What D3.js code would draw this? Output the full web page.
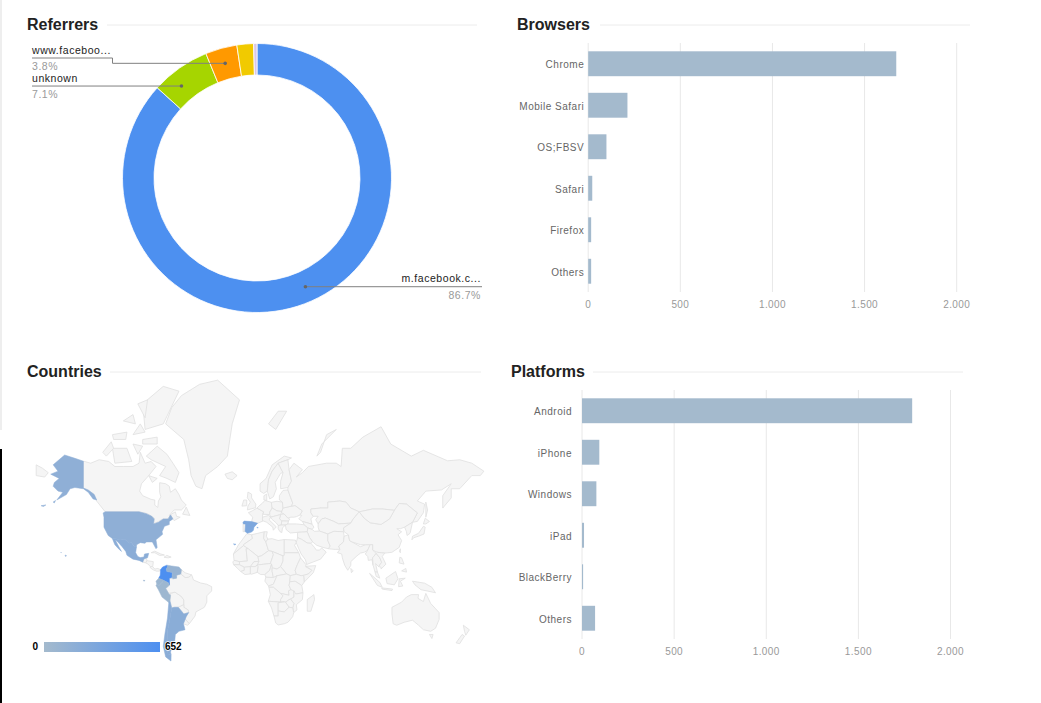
<!DOCTYPE html>
<html>
<head>
<meta charset="utf-8">
<script src="https://cdn.jsdelivr.net/npm/d3@7"></script>
<style>
  html, body { margin: 0; padding: 0; background: #fff; overflow: hidden; }
  svg { display: block; }
  text { font-family: "Liberation Sans", Arial, sans-serif; }
</style>
</head>
<body>
<svg id="chart" width="1041" height="703"></svg>
<script>
// referrers donut
const refNames = ["m.facebook.c...", "unknown", "www.faceboo...", "other", "rest"];
const refShares = [86.7, 7.1, 3.8, 2.0, 0.4];
const refColors = ["#4d90f0", "#a6d500", "#ff9900", "#f1ca00", "#d9c7e8"];
const refLeaderDeg = [156, 320.6, 344.5];

// bars
const browserNames = ["Chrome", "Mobile Safari", "OS;FBSV", "Safari", "Firefox", "Others"];
const browserHits = [1672, 213, 99, 22, 16, 16];
const platformNames = ["Android", "iPhone", "Windows", "iPad", "BlackBerry", "Others"];
const platformHits = [1792, 94, 78, 11, 6, 71];
const hitTicks = [0, 500, 1000, 1500, 2000];

// countries with hits, everything else on the map is empty
const countryHits = { USA: 160, Mexico: 190, Spain: 290, Colombia: 652, Venezuela: 100, Ecuador: 60, Peru: 50, Chile: 190, Argentina: 195 };
const legendRange = [0, 652];

// rough outlines, lon/lat
const hitShapes = {
  USA: [
    [[-124.7,48.4],[-123,49],[-95,49],[-89,48],[-84.5,46.5],[-82.5,45],[-83,42],[-79,43],[-75,45],[-71,45],[-69,47.3],[-67,45],[-70,43.5],[-70,41.6],[-74,40.5],[-76,37],[-75.5,35.3],[-81,31.5],[-80,26],[-81,25],[-82.8,28],[-84,30],[-89,30],[-90,29],[-94,29.5],[-97,28],[-97.2,26],[-99.5,27.5],[-101.5,29.8],[-103,29],[-106.5,31.8],[-111,31.3],[-114.8,32.5],[-117.1,32.5],[-120.5,34.5],[-124,40],[-124,46]],
    [[-141,69.6],[-148,70.4],[-156.5,71.3],[-166,68.5],[-162,66.5],[-168,65.5],[-161,64],[-165,62.5],[-166,61],[-162,59],[-158,58.5],[-163,55],[-155,57.5],[-152,60],[-148,60.5],[-141,60],[-137,58.5],[-133,55.5],[-130,55],[-132,57.5],[-137,59.5],[-141,60.3]],
    [[-156,20.2],[-155,19.8],[-155.6,19],[-156,19.6]],
    [[-159.7,22.2],[-159.2,22.1],[-159.4,21.8]],
    [[-166,54],[-164,54.8],[-165,53.6]],
    [[-176,52.2],[-172,52.6],[-174,51.8]]
  ],
  Mexico: [[[-117.1,32.5],[-114.8,32.5],[-111,31.3],[-106.5,31.8],[-103,29],[-101.5,29.8],[-99.5,27.5],[-97.2,26],[-97.8,22],[-96,19],[-94,18.2],[-91,18.7],[-90.5,21],[-87,21.5],[-88,18],[-89,17.9],[-91,17.2],[-92,14.6],[-95,16],[-100,17],[-105,20],[-106,23],[-109,26.5],[-112.5,30],[-114.7,31.5],[-112,27],[-109.5,23],[-112,25],[-115,28]]],
  Spain: [
    [[-9.2,43],[-8,43.7],[-2,43.4],[3,42.4],[0,40],[-0.5,38],[-2,36.8],[-5.5,36],[-7.4,37.2],[-7,42],[-8.8,42]],
    [[-17,28.6],[-15,28.4],[-15.8,27.7]],
    [[2.4,39.9],[3.4,39.8],[3,39.3]]
  ],
  Colombia: [[[-77.3,8.5],[-75.5,10.7],[-72,12.2],[-71.3,11],[-72.5,9],[-72,7],[-67.5,6.2],[-67.8,2],[-70,1.5],[-69.8,-4.2],[-70.8,-2.3],[-75.2,-0.1],[-78.8,1.4],[-77.5,4],[-77.3,7]]],
  Venezuela: [[[-72,12.2],[-68,11.5],[-62,10.7],[-60,8.5],[-60.5,5],[-64,4],[-64,1.5],[-67,1],[-67.8,2],[-67.5,6.2],[-72,7],[-72.5,9],[-71.3,11]]],
  Ecuador: [
    [[-78.8,1.4],[-75.2,-0.1],[-75.5,-1.5],[-78.5,-4.5],[-80.3,-3.4],[-81,-1]],
    [[-91.5,-0.2],[-90,-0.4],[-91,-1]]
  ],
  Peru: [[[-81,-4.5],[-80.3,-3.4],[-78.5,-4.5],[-75.5,-1.5],[-75.2,-0.1],[-70.8,-2.3],[-69.8,-4.2],[-73,-7],[-70.5,-11],[-69,-12.5],[-69.5,-17],[-70.4,-18.3],[-76,-14],[-79,-8]]],
  Chile: [[[-70.4,-18.3],[-69.5,-17],[-68,-22.5],[-70,-33],[-71.5,-39],[-72,-47],[-71,-52],[-68.5,-52.3],[-68.6,-55.5],[-73,-53.5],[-75,-48],[-73.5,-40],[-71.5,-30]]],
  Argentina: [[[-66,-22],[-62.6,-22],[-58,-27],[-54,-26],[-56,-29],[-58.3,-34],[-57,-38],[-62,-39],[-65,-41],[-65.5,-45],[-69,-51],[-68.5,-52.3],[-71,-52],[-72,-47],[-71.5,-39],[-70,-33],[-68,-22.5]]]
};

const emptyShapes = [
  // north america
  [[-141,69.6],[-135,69],[-128,70],[-120,69.5],[-115,68],[-108,68],[-100,68],[-95,69],[-94,72],[-90,69],[-85,69.5],[-81,68],[-87,65],[-93,62],[-94.5,59],[-92,57],[-85,55.3],[-82,55],[-82,52.5],[-79.5,51.3],[-79,54.5],[-77,56.5],[-78,58.5],[-78,62.4],[-73,62],[-70,61],[-69,58.5],[-65,60],[-62,57.5],[-60,55],[-56,52.5],[-60,50],[-66,50],[-70,47],[-65,49],[-64,46.5],[-61,46],[-66,44],[-67,45],[-69,47.3],[-71,45],[-75,45],[-79,43.5],[-83,42],[-82.5,45.5],[-88,48],[-95,49],[-123,49],[-130,54.5],[-133,58],[-137,59],[-141,60.3]],
  [[-80,73.5],[-72,71.5],[-67,69],[-62,66],[-65,62.5],[-72,64],[-78,65],[-73,68],[-85,70],[-89,71]],
  [[-117,73],[-105,73],[-101,69.5],[-115,69]],
  [[-125,72],[-118,74.5],[-116,73],[-122,71]],
  [[-90,77],[-75,78],[-62,82.5],[-75,83],[-92,81]],
  [[-92,75],[-80,75.5],[-80,74],[-92,74]],
  [[-117,76],[-105,76.5],[-106,75],[-116,75]],
  [[-100,76],[-94,78],[-90,76.5]],
  [[-100,74],[-92,73.5],[-96,71.5]],
  [[-108,78.5],[-100,79.5],[-98,78]],
  [[-96,81],[-88,81.5],[-90,79]],
  [[-59,47.7],[-56,51.5],[-53,47]],
  [[-87,65],[-80,64],[-84,62.5]],
  [[-73,78],[-68,80.5],[-60,82],[-45,83.2],[-30,83.6],[-12,81.5],[-18,78],[-20,75],[-22,71],[-30,68],[-40,65],[-43,60],[-48,61],[-52,65],[-54,70],[-58,75]],
  [[-24,65.5],[-18,66.3],[-14,65],[-18,63.5],[-22,64]],
  // central america and caribbean
  [[-92,14.6],[-91,17.2],[-89,17.9],[-88.5,15.8],[-89.5,14]],
  [[-88.5,15.8],[-83.2,15],[-83.7,11],[-85.7,11],[-87.5,13],[-89.5,14]],
  [[-85.7,11],[-83.7,11],[-82,9],[-79.5,9.5],[-77.3,8.5],[-78,7.3],[-80.5,7.3],[-83,8.2],[-85.7,10]],
  [[-85,22],[-82,23.2],[-77,21],[-74,20.2],[-78,19.9],[-82,22]],
  [[-74.4,18.5],[-72,19.9],[-68.5,18.6],[-71,18]],
  // south america
  [[-69,-11],[-65.3,-10],[-60,-13.5],[-58,-16.3],[-58,-20],[-62.6,-22],[-66,-22],[-68,-22.5],[-69.5,-17],[-69,-12.5]],
  [[-60.5,5],[-60,8.5],[-57,6],[-51.5,4.2],[-54,2.2],[-57,2]],
  [[-60.5,5],[-57,2],[-54,2.2],[-51.5,4.2],[-50,0],[-44,-2.5],[-39,-3.5],[-35,-5.5],[-35,-9],[-39,-13],[-39,-18],[-41,-22],[-48,-25.5],[-48.7,-28.5],[-53.5,-34],[-57.5,-30],[-54,-26],[-54.5,-24],[-58,-22],[-58,-16.3],[-60,-13.5],[-65.3,-10],[-70.5,-11],[-73,-7],[-69.8,-4.2],[-70,1.5],[-67,1],[-64,1.5],[-64,4]],
  [[-62.6,-22],[-58,-20],[-58,-22],[-54.5,-24],[-54,-26],[-58,-27]],
  [[-58.3,-34],[-58,-30.5],[-57.5,-30],[-53.5,-34],[-55,-35]],
  // europe
  [[-9,42],[-7,42],[-7.4,37.2],[-9,37]],
  [[-2,43.4],[3,42.4],[7.5,43.8],[7,47.5],[8,49],[2.5,51],[-1.5,49.5],[-4.7,48.5],[-1,46]],
  [[-5.5,50],[1.3,51.2],[1.5,53],[-2,56],[-2,57.7],[-5,58.6],[-5.5,56],[-3,54],[-5,52]],
  [[-10,52],[-6,52.2],[-6,55],[-8.5,55]],
  [[2.5,51],[8,49],[7.5,47.6],[13,47.5],[13,48.8],[15,51],[14.3,53.9],[9,54.8],[7,53.5],[4,52]],
  [[8.2,55],[10.5,54.8],[10.5,57.7],[8.2,57]],
  [[7,44],[7,46],[12,47],[13.7,46],[12.5,44.5],[18.4,40.2],[16,38],[15.5,40],[10.5,43]],
  [[14.3,53.9],[15,51],[19,49.5],[23,49.2],[24,51],[23.5,54],[19,54.4]],
  [[13,47.5],[13,48.8],[15,51],[19,49.5],[23,49.2],[22,47.5],[16.5,46.5],[13.7,46]],
  [[22,47.5],[24.8,47.9],[28,45.5],[29.5,45],[28.5,43.7],[23,43.8],[21,45]],
  [[13.7,46],[16.5,46.5],[22,47.5],[21,45],[23,43.8],[22.5,41.3],[20,41],[18.4,42.6],[14.5,45]],
  [[23,43.8],[28.5,43.7],[28,42],[26,41.3],[22.5,41.3]],
  [[20,41],[22.5,41.3],[26,41.3],[23.5,39.5],[23,36.5],[21.5,37],[20,39]],
  [[24,51],[23,49.2],[22.8,48.3],[24.8,47.9],[28,45.5],[30.5,46],[33,46],[35,46.3],[38,47.2],[40,49.5],[34,52.3],[31,52]],
  [[23.5,54],[24,51],[31,52],[32,53.5],[28,59.5],[24,59.3],[21,57],[21,55]],
  [[5,59],[8,58],[11,59],[12,63.5],[15,66.5],[20,69],[28,70],[31,70.5],[25,71],[15,68.5],[10,64],[5,62]],
  [[11,59],[13,55.5],[16,56.5],[18.5,60],[17.5,62.5],[22,65.8],[24,66],[20,69],[15,66.5],[12,63.5]],
  [[24,66],[22,63],[22,60],[28,60.5],[31,63],[29,67],[28,70],[20,69]],
  [[12,78],[20,80],[27,80],[18,77]],
  [[52,71],[56,74],[68,77],[60,76],[55,72]],
  // russia and asia
  [[28,60.5],[28,59.5],[32,53.5],[31,52],[34,52.3],[40,49.5],[38,47.2],[39.5,47],[37,45],[40,43.5],[48,41.8],[47,45],[49,46.5],[47,48.5],[47,50.5],[55,51],[61,51],[61,54],[71,54.5],[76,54],[80,51],[87,49],[98,50.5],[106,50.5],[116,49.8],[120,53.3],[126,53],[135,48.4],[131,43],[135,43.5],[140,48.5],[141,53],[135,54.5],[142,59],[155,59.5],[163,62],[156,57],[156,51],[163,56],[163,60],[170,60],[180,65],[187,65],[190,66.5],[180,69],[170,70],[160,69.7],[140,72.5],[130,71],[113,74],[105,77.5],[90,75.5],[80,73],[73,73],[72,68],[68,69],[60,69],[45,68],[40,66],[35,64.5],[40,67],[33,69],[29,67],[31,63]],
  [[-180,68.5],[-175,67.5],[-170,66],[-173,64.5],[-180,65]],
  [[26,41.3],[28,42],[35,42],[41.5,41.5],[44.5,39.5],[44,37],[36,36.6],[30,36.2],[26.5,38.5]],
  [[40,43.5],[48,41.8],[49.5,40],[48,38.5],[44.5,39.5],[41.5,41.5]],
  [[47,50.5],[55,51],[61,51],[61,54],[71,54.5],[76,54],[80,51],[87,49],[82,45],[80,42.5],[70,42],[66,43.5],[59,45.5],[56,45],[53,42],[51,44.5],[53,46.5],[49,46.5],[47,48.5]],
  [[53,42],[56,45],[59,45.5],[66,43.5],[70,42],[80,42.5],[74,39.5],[74,37],[66,37.3],[61,35.5],[54,37.5],[53,40]],
  [[44.5,39.5],[48,38.5],[50,37.3],[54,37.5],[61,35.5],[61,31],[63,27],[61.5,25],[57,26],[52,27.5],[48.5,30],[46,33],[44,37]],
  [[36,36.6],[44,37],[46,33],[48.5,30],[47,29],[44,29.2],[39,32],[36,33]],
  [[34.9,29.5],[36,33],[39,32],[44,29.2],[47,29],[48,28],[50,26],[51.5,24],[54,24],[56,25.5],[59.7,22.5],[55,17],[43.5,12.7],[42.5,16.5],[39,21],[37,25]],
  [[61,35.5],[66,37.3],[74,37],[74.5,34],[74,30],[70,27],[71,24.5],[67,24.5],[61.5,25],[63,27],[61,31]],
  [[74.5,34],[78,35],[79,31],[81,30],[88,26.5],[92,28],[96,28],[94,24],[91.5,22.5],[88,21.7],[85,19.5],[80,15],[80,12],[77.5,8],[75,12],[73,18],[72.5,21],[69,22],[71,24.5],[70,27],[74,30]],
  [[74,39.5],[80,42.5],[82,45],[87,49],[91,45.5],[96,42.7],[105,41.7],[112,45],[116,49.8],[120,53.3],[126,53],[135,48.4],[131,43],[124.5,40],[121,39],[118,39],[122,37],[119,35],[122,31],[120,26],[114,22.3],[108,21.7],[102,22.3],[98,24],[98,28],[92,28],[88,28],[81,30],[79,31],[78,35],[74.5,37]],
  [[87,49],[98,50.5],[106,50.5],[116,49.8],[112,45],[105,41.7],[96,42.7],[91,45.5]],
  [[124.5,40],[131,43],[129,36],[126.5,34.5],[126,37]],
  [[130.5,31.5],[131,34],[136,36],[140,40.5],[141.5,40],[140.5,35.5],[136,34],[132,33]],
  [[140,42],[141.5,45.4],[145,43.5],[142,42]],
  [[142,46],[142,54],[143.5,50]],
  [[92,21],[94,24],[96,28],[98,28],[98,24],[101,21.5],[98,18],[98.5,12],[97.5,16.5],[94.5,16],[94,19]],
  [[101,21.5],[98,18],[98.5,12],[100,6.5],[102,6.5],[100.5,13.5],[103,11],[105.5,14.5],[104,18]],
  [[102,22.3],[108,21.7],[106,19],[109,13],[105,9],[105,10.5],[103,11],[105.5,14.5],[104,18],[101,21.5]],
  [[100,6.5],[102,6.5],[104,1.5],[101,3]],
  [[95.5,5.5],[104,-2],[106,-6],[102,-4.5]],
  [[105.5,-6.5],[114.5,-7.5],[114,-8.7],[106,-7.5]],
  [[109,1.5],[117,7],[119,1],[116,-4],[110,-3]],
  [[120,1],[125,1.5],[121,-1],[123,-5],[119.5,-5.5]],
  [[131,-1],[141,-2.6],[147,-6],[150,-10.5],[143,-9],[138,-8],[133,-4]],
  [[120.5,18.5],[122,18],[124,13],[120,14]],
  [[122,7.5],[125.5,9.5],[126,6.5]],
  [[121,25],[120.2,23],[121,22]],
  [[80,9.5],[82,7.5],[80.5,6]],
  // oceania
  [[114,-22],[122,-18],[126,-14],[130,-12],[136,-12],[135.5,-15],[140,-17.5],[142,-11],[146,-19],[153,-26],[153,-31],[150,-37],[146,-39],[140,-38],[136,-35],[131,-31.5],[124,-33],[118,-35],[115,-34],[114,-27]],
  [[145,-41],[148,-41],[147,-43.5]],
  [[173,-35],[178,-38],[175,-41.5],[174,-39]],
  [[172,-41],[174,-42],[170,-46.5],[167,-46]],
  // africa
  [[49.5,-12],[50,-16],[47,-25],[44,-25],[44,-16]],
  [[-5.9,35.8],[-2,35],[-1.2,32.5],[-8.7,28],[-8.7,27.3],[-17,21],[-13,27.7],[-9.7,31.5]],
  [[-2,35],[8.5,37],[8,32.5],[9.8,30],[12,23.5],[6,19.5],[3.3,19],[-4.8,25],[-8.7,27.3],[-8.7,28],[-1.2,32.5]],
  [[8.5,37],[11,37],[10.2,34],[11.5,32],[9.8,30],[8,32.5]],
  [[11.5,32],[15,32.3],[20,31],[25,31.7],[25,20],[24,19.5],[15,23],[12,23.5],[9.8,30]],
  [[25,31.7],[34.2,31.3],[34.9,29.5],[33.5,27.5],[37,22],[25,22]],
  [[-17,21],[-8.7,27.3],[-4.8,25],[-6.5,25],[-5.5,15.5],[-12,15],[-16.5,16]],
  [[-4.8,25],[3.3,19],[4,15.2],[0,15],[-3,11],[-8,10.5],[-12,12.5],[-12,15],[-5.5,15.5],[-6.5,25]],
  [[3.3,19],[6,19.5],[12,23.5],[15,23],[16,20.5],[13.5,13.5],[4,12.5],[2.5,12],[4,15.2]],
  [[15,23],[24,19.5],[24,15.5],[22,11],[19,9],[15,10],[14.5,13],[13.5,13.5],[16,20.5]],
  [[25,20],[25,22],[37,22],[38.5,18],[36,13],[34,8],[35,4.7],[30,3.6],[27,5],[22,11],[24,15.5],[24,19.5]],
  [[38.5,18],[43,12.5],[42.5,11],[48,8],[45,5],[41.8,4],[39,3.5],[35,4.7],[34,8],[36,13]],
  [[43,11.3],[51,11.8],[49,6],[41.5,-1.7],[41,3.9],[45,5],[48,8]],
  [[-16.5,16],[-12,15],[-12,12.5],[-16.8,12.5],[-17.5,14.7]],
  [[-16.8,12.5],[-12,12.5],[-8,10.5],[-8,8],[-11,7],[-13.5,9.5]],
  [[-11,7],[-8,8],[-8,10.5],[-3,11],[-3,5],[-7.5,4.5]],
  [[-3,11],[0,15],[4,15.2],[2.5,12],[1,11]],
  [[-3,11],[1,11],[2.5,12],[3.5,11],[2.7,6.3],[-2,4.8],[-3,5]],
  [[2.7,6.3],[3.5,11],[2.5,12],[4,12.5],[13.5,13.5],[14.5,13],[13,8],[9,4.5],[5.5,4.5]],
  [[9,4.5],[13,8],[14.5,13],[15,10],[15,7],[16,2],[9.7,2.3]],
  [[15,7],[15,10],[19,9],[22,11],[27,5],[19,3.5],[16,2]],
  [[9.7,2.3],[16,2],[19,3.5],[16,-3.5],[12,-5],[9,-1]],
  [[19,3.5],[27,5],[30,3.6],[29.5,-1.5],[29,-4.5],[30.5,-8],[28.5,-9],[29,-12.5],[22,-11],[16,-6],[12.3,-6],[12,-5],[16,-3.5]],
  [[30,3.6],[35,4.7],[39,3.5],[41,3.9],[41.5,-1.7],[39.5,-4.6],[34,-1],[29.5,-1.5]],
  [[29.5,-1.5],[34,-1],[39.5,-4.6],[40.5,-10.5],[34.5,-11.5],[30.5,-8],[29,-4.5]],
  [[12.3,-6],[16,-6],[22,-11],[24,-13],[22,-16],[22,-18],[11.8,-17.3],[13.5,-12]],
  [[22,-11],[29,-12.5],[28.5,-9],[30.5,-8],[33,-9],[33,-14],[30,-15.5],[26,-18],[22,-18],[22,-16],[24,-13]],
  [[34.5,-11.5],[40.5,-10.5],[40,-16],[35,-20],[35.5,-24],[32.8,-26],[32,-22.4],[33,-19],[30.3,-15.6],[33,-14],[33,-9]],
  [[26,-18],[30,-15.5],[33,-19],[32,-22.4],[29,-22]],
  [[11.8,-17.3],[22,-18],[25,-17.8],[20,-18.5],[20,-28.5],[16.5,-28.5],[14.5,-22.5]],
  [[20,-18.5],[25,-17.8],[26,-18],[29,-22],[25,-25.5],[20,-24.8]],
  [[16.5,-28.5],[20,-28.5],[20,-24.8],[25,-25.5],[29,-22],[32,-22.4],[32.8,-26],[32,-29],[28,-33],[25,-34],[20,-34.8],[18,-33.5]]
];

const svg = d3.select("#chart");

// the screenshot has a bit of another window on its left edge
svg.append("rect").attr("x", 0).attr("y", 0).attr("width", 2).attr("height", 430).attr("fill", "#eeeeee");
svg.append("rect").attr("x", 0).attr("y", 449).attr("width", 2).attr("height", 254).attr("fill", "#000");

function drawTitle(label, x, y, lineFrom, lineTo) {
  svg.append("text").attr("x", x).attr("y", y)
    .attr("font-size", 16).attr("font-weight", "bold").attr("fill", "#222")
    .text(label);
  svg.append("line")
    .attr("x1", lineFrom).attr("x2", lineTo)
    .attr("y1", y - 5).attr("y2", y - 5)
    .attr("stroke", "#ececec");
}

drawTitle("Referrers", 27, 30, 107, 477);
drawTitle("Browsers", 517, 30, 600, 970);
drawTitle("Countries", 27, 377, 110, 481);
drawTitle("Platforms", 511, 377, 593, 963);

// donut
const pie = d3.pie().sort(null).value(d => d);
const arc = d3.arc().innerRadius(103).outerRadius(134.5);
const donut = svg.append("g").attr("transform", "translate(257,178)");

donut.selectAll("path")
  .data(pie(refShares))
  .join("path")
  .attr("d", arc)
  .attr("fill", (d, i) => refColors[i])
  .attr("stroke", "#fff")
  .attr("stroke-width", 0.8);

const leaders = [
  { i: 0, bend: null, endX: 482, textX: 481, anchor: "end" },
  { i: 1, bend: null, endX: 32, textX: 32, anchor: "start" },
  { i: 2, bend: [112.5, 58], endX: 32, textX: 32, anchor: "start" }
];

leaders.forEach(l => {
  const a = refLeaderDeg[l.i] * Math.PI / 180;
  const px = 257 + 119 * Math.sin(a);
  const py = 178 - 119 * Math.cos(a);
  const pts = l.bend
    ? [[px, py], [l.bend[0], py], l.bend, [l.endX, l.bend[1]]]
    : [[px, py], [l.endX, py]];
  const lineY = pts[pts.length - 1][1];

  svg.append("path")
    .attr("d", d3.line()(pts))
    .attr("fill", "none")
    .attr("stroke", "#808080")
    .attr("stroke-width", 1);
  svg.append("circle").attr("cx", px).attr("cy", py).attr("r", 1.8).attr("fill", "#666");
  svg.append("text").attr("x", l.textX).attr("y", lineY - 4.5)
    .attr("text-anchor", l.anchor).attr("font-size", 10.5).attr("letter-spacing", 0.55)
    .attr("fill", "#222").text(refNames[l.i]);
  svg.append("text").attr("x", l.textX).attr("y", lineY + 12)
    .attr("text-anchor", l.anchor).attr("font-size", 10.5).attr("letter-spacing", 0.55)
    .attr("fill", "#999").text(refShares[l.i] + "%");
});

// bar charts
const dotThousands = d3.formatLocale({ decimal: ",", thousands: ".", grouping: [3], currency: ["", ""] }).format(",");

function drawBars(names, hits, left, top, labelGap) {
  const x = d3.scaleLinear().domain([0, 2000]).range([left, left + 368.5]);
  const y = d3.scaleBand().domain(names).range([top, top + 249]).paddingInner(0.4).paddingOuter(0.2);
  const g = svg.append("g");

  g.append("g")
    .attr("transform", `translate(0,${top + 249})`)
    .call(d3.axisBottom(x).tickValues(hitTicks).tickSize(-249).tickPadding(9).tickFormat(dotThousands))
    .call(a => a.select(".domain").remove())
    .call(a => a.selectAll("line").attr("stroke", "#e8e8e8"))
    .call(a => a.selectAll("text").attr("fill", "#999").attr("font-size", 10).attr("letter-spacing", 0.4).attr("font-family", null));

  g.selectAll("rect")
    .data(names)
    .join("rect")
    .attr("x", left + 0.5)
    .attr("y", d => y(d))
    .attr("width", (d, i) => x(hits[i]) - left)
    .attr("height", y.bandwidth())
    .attr("fill", "#a4bacd");

  g.append("g")
    .attr("transform", `translate(${left},0)`)
    .call(d3.axisLeft(y).tickSize(0).tickPadding(labelGap))
    .call(a => a.select(".domain").remove())
    .call(a => a.selectAll("text").attr("y", 1.5).attr("fill", "#666").attr("font-size", 10).attr("letter-spacing", 0.5).attr("font-family", null));
}

drawBars(browserNames, browserHits, 587.7, 43, 3.5);
drawBars(platformNames, platformHits, 581.5, 390, 9.5);

// map, x goes through a plain scale because russia runs past 180
const projection = d3.geoMercator().scale(69.3).translate([254, 580]);
const lonX = d3.scaleLinear().domain([0, 180]).range([254, 471.8]);
const ringPath = d3.line().x(d => lonX(d[0])).y(d => projection([0, d[1]])[1]).curve(d3.curveLinearClosed);
const hitColor = d3.scaleLinear().domain(legendRange).range(["#a4bacd", "#4d8ff0"]);
const map = svg.append("g");

map.selectAll("path.empty")
  .data(emptyShapes)
  .join("path")
  .attr("class", "empty")
  .attr("d", ringPath)
  .attr("fill", "#f5f5f5")
  .attr("stroke", "#e0e0e0")
  .attr("stroke-width", 0.8)
  .attr("stroke-linejoin", "round");

Object.keys(hitShapes).forEach(name => {
  map.selectAll("path." + name)
    .data(hitShapes[name])
    .join("path")
    .attr("class", name)
    .attr("d", ringPath)
    .attr("fill", hitColor(countryHits[name]))
    .attr("stroke", hitColor(countryHits[name]))
    .attr("stroke-width", 0.5);
});

// map legend
const grad = svg.append("defs").append("linearGradient").attr("id", "legendGrad");
grad.selectAll("stop")
  .data(legendRange)
  .join("stop")
  .attr("offset", (d, i) => i * 100 + "%")
  .attr("stop-color", d => hitColor(d));

const legendX = d3.scaleLinear().domain(legendRange).range([44, 160]);

svg.append("rect")
  .attr("x", legendX(0)).attr("y", 642)
  .attr("width", legendX(652) - legendX(0)).attr("height", 10)
  .attr("fill", "url(#legendGrad)");

svg.selectAll("text.legend")
  .data(legendRange)
  .join("text")
  .attr("class", "legend")
  .attr("x", d => d === 0 ? legendX(d) - 6 : legendX(d) + 5)
  .attr("y", 650)
  .attr("text-anchor", d => d === 0 ? "end" : "start")
  .attr("font-size", 10).attr("font-weight", "bold")
  .attr("fill", "#000")
  .attr("paint-order", "stroke").attr("stroke", "#fff").attr("stroke-width", 1.5)
  .text(d => d);
</script>
</body>
</html>
